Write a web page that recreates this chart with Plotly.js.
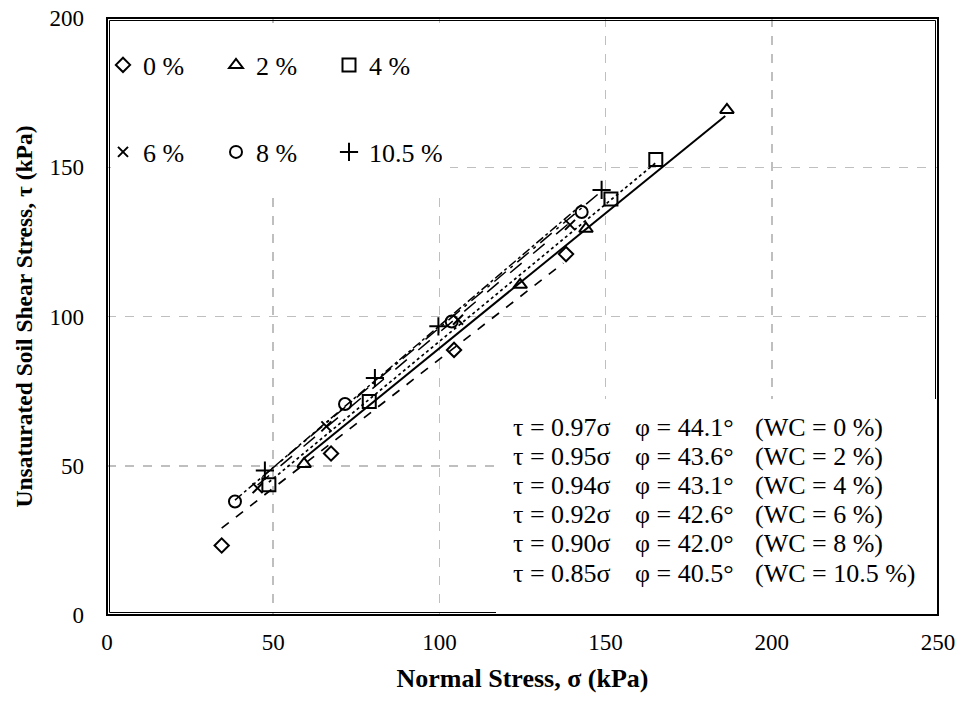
<!DOCTYPE html>
<html>
<head>
<meta charset="utf-8">
<script src="https://cdn.plot.ly/plotly-3.0.1.min.js"></script>
<style>html,body{margin:0;padding:0;background:#fff;}#chart{width:961px;height:702px;}</style>
</head>
<body>
<div id="chart"></div>
<script>
// ---- data ----
const wcLabels = ['0 %', '2 %', '4 %', '6 %', '8 %', '10.5 %'];

const sigma0  = [34.5, 67.4, 104.4, 138.1];
const tau0    = [23.3, 54.1, 88.8, 120.9];
const sigma2  = [59.3, 124.3, 144.1, 186.5];
const tau2    = [50.6, 110.6, 129.4, 169.2];
const sigma4  = [48.7, 78.9, 151.6, 165.1];
const tau4    = [43.6, 71.5, 139.4, 152.6];
const sigma6  = [45.3, 66.0, 105.6, 139.3];
const tau6    = [42.5, 63.2, 98.9, 130.7];
const sigma8  = [38.5, 71.6, 103.7, 142.8];
const tau8    = [38.0, 70.7, 98.3, 135.0];
const sigma10 = [47.5, 80.6, 99.7, 148.8];
const tau10   = [48.4, 79.4, 96.7, 142.4];

// trend line end points
const fitSigma = [[34.5, 137.3], [59.3, 186.0], [48.7, 165.1], [45.3, 139.3], [38.5, 142.8], [47.5, 148.8]];
const fitTau   = [[29.1, 117.9], [52.5, 167.2], [44.5, 151.5], [43.5, 131.5], [38.5, 137.5], [47.0, 142.0]];

const eqTau = ['τ = 0.97σ', 'τ = 0.95σ', 'τ = 0.94σ', 'τ = 0.92σ', 'τ = 0.90σ', 'τ = 0.85σ'];
const eqPhi = ['φ = 44.1°', 'φ = 43.6°', 'φ = 43.1°', 'φ = 42.6°', 'φ = 42.0°', 'φ = 40.5°'];
const eqWC  = ['(WC = 0 %)', '(WC = 2 %)', '(WC = 4 %)', '(WC = 6 %)', '(WC = 8 %)', '(WC = 10.5 %)'];

const xTicks = [0, 50, 100, 150, 200, 250];
const yTicks = [0, 50, 100, 150, 200];

// ---- styles ----
const sigmas = [sigma0, sigma2, sigma4, sigma6, sigma8, sigma10];
const taus = [tau0, tau2, tau4, tau6, tau8, tau10];
const symbols = ['diamond-open', 'triangle-up-open', 'square-open', 'x-thin-open', 'circle-open', 'cross-thin-open'];
const sizes = [11, 12, 13, 10, 12, 13];
const dashes = ['dash', 'solid', 'dot', 'longdash', 'dashdot', 'longdashdot'];
const lineWidths = [1.7, 2, 1.7, 1.5, 1.5, 1.5];
const FONT = 'Liberation Serif, Times New Roman, serif';

const traces = [];
for (let i = 0; i < 6; i++) {
  traces.push({
    x: fitSigma[i], y: fitTau[i], type: 'scatter', mode: 'lines',
    line: {color: '#000', width: lineWidths[i], dash: dashes[i]},
    showlegend: false, hoverinfo: 'skip'
  });
}
for (let i = 0; i < 6; i++) {
  traces.push({
    x: sigmas[i], y: taus[i], type: 'scatter', mode: 'markers',
    name: wcLabels[i],
    legend: i < 3 ? 'legend' : 'legend2',
    marker: {symbol: symbols[i], size: sizes[i], color: '#000', line: {color: '#000', width: 2}}
  });
}

const L = 107, R = 23, T = 18, B = 87;
const W = 961 - L - R, H = 702 - T - B;
const px = v => v / W, py = v => v / H;

const annotations = [];
const colX = [0, 122, 242];
const colTexts = [eqTau, eqPhi, eqWC];
for (let r = 0; r < 6; r++) {
  for (let c = 0; c < 3; c++) {
    annotations.push({
      xref: 'paper', yref: 'paper',
      x: px(511 - L + colX[c]), y: 1 - py(427 + r * 29.2 - T),
      xanchor: 'left', yanchor: 'middle', showarrow: false,
      text: colTexts[c][r],
      font: {family: FONT, size: 26, color: '#000'}
    });
  }
}

const shapes = [
  // inner border line (double-line look)
  {type: 'rect', xref: 'paper', yref: 'paper', x0: px(2.5), x1: 1 - px(2.5), y0: py(2.5), y1: 1 - py(2.5),
   line: {color: '#000', width: 1}, layer: 'above'},
  // white box behind legend
  {type: 'rect', xref: 'paper', yref: 'paper', x0: px(4), x1: px(450 - L), y0: 1 - py(195 - T), y1: 1 - py(5),
   line: {width: 0}, fillcolor: '#fff', layer: 'above'},
  // white box behind equations
  {type: 'rect', xref: 'paper', yref: 'paper', x0: px(496 - L), x1: 1 - px(1), y0: py(1), y1: 1 - py(399 - T),
   line: {width: 0}, fillcolor: '#fff', layer: 'above'},
  // outer plot border
  {type: 'rect', xref: 'paper', yref: 'paper', x0: 0, x1: 1, y0: 0, y1: 1,
   line: {color: '#000', width: 2}, layer: 'above'}
];

const legendCommon = {
  orientation: 'h', xanchor: 'left', yanchor: 'middle',
  bgcolor: 'rgba(0,0,0,0)', borderwidth: 0,
  font: {family: FONT, size: 26, color: '#000'},
  entrywidth: 68, entrywidthmode: 'pixels', itemclick: false, itemdoubleclick: false
};

const layout = {
  width: 961, height: 702,
  margin: {l: L, r: R, t: T, b: B, pad: 0},
  paper_bgcolor: '#fff', plot_bgcolor: '#fff',
  font: {family: FONT, size: 20, color: '#000'},
  showlegend: true,
  legend: Object.assign({}, legendCommon, {x: px(-4), y: 1 - py(65 - T)}),
  legend2: Object.assign({}, legendCommon, {x: px(-4), y: 1 - py(152 - T)}),
  xaxis: {
    range: [0, 250], tickvals: xTicks, ticktext: xTicks.map(String),
    showgrid: true, gridcolor: '#bfbfbf', gridwidth: 1.5, griddash: 'dash',
    zeroline: false, showline: false,
    ticks: '', ticklabelstandoff: 11,
    tickfont: {family: FONT, size: 23, color: '#000'},
    title: {text: '<b>Normal Stress, σ (kPa)</b>', font: {family: FONT, size: 26, color: '#000'}, standoff: 14}
  },
  yaxis: {
    range: [0, 200], tickvals: yTicks, ticktext: yTicks.map(String),
    showgrid: true, gridcolor: '#bfbfbf', gridwidth: 1.5, griddash: 'dash',
    zeroline: false, showline: false,
    ticks: '', ticklabelstandoff: 22,
    tickfont: {family: FONT, size: 23, color: '#000'},
    title: {text: '<b>Unsaturated Soil Shear Stress, τ (kPa)</b>', font: {family: FONT, size: 23.5, color: '#000'}, standoff: 10}
  },
  shapes: shapes,
  annotations: annotations
};

Plotly.newPlot('chart', traces, layout, {displayModeBar: false, staticPlot: true});
</script>
</body>
</html>
